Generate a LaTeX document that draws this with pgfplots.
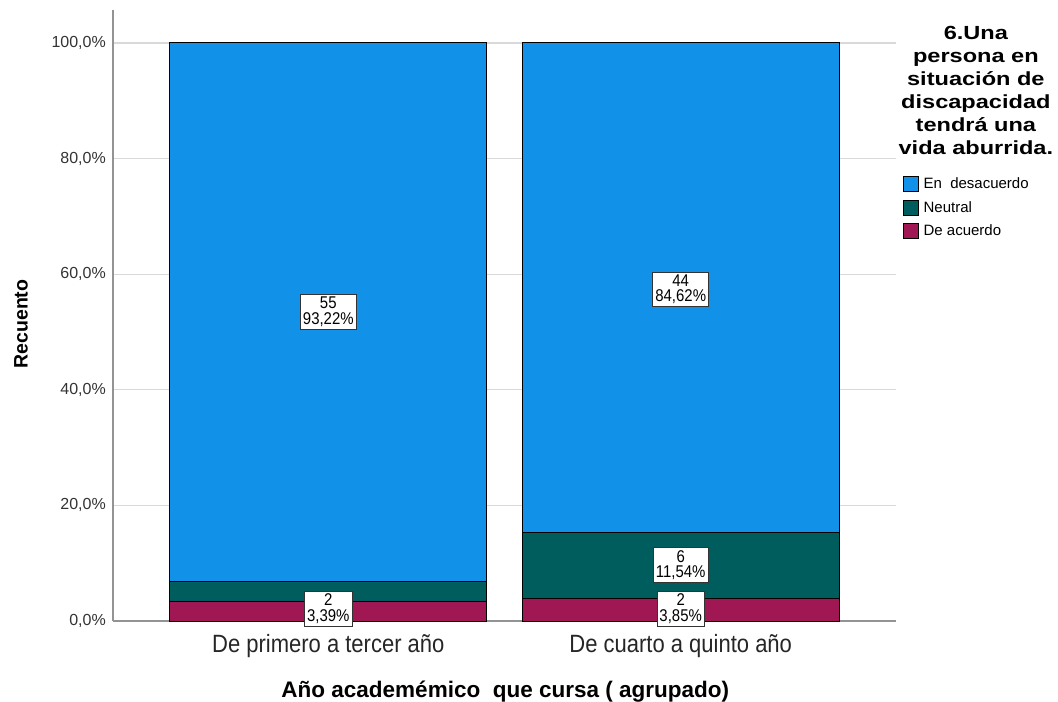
\documentclass[border=0pt]{standalone}
\usepackage{fontspec}
\setmainfont{Liberation Sans}
\newfontfamily\narrowfont[FakeStretch=0.88]{Liberation Sans}
\newfontfamily\widefont[FakeStretch=1.24]{Liberation Sans}
\usepackage{pgfplots}
\pgfplotsset{compat=1.18}
\definecolor{cblue}{HTML}{1192E8}
\definecolor{cteal}{HTML}{005D5D}
\definecolor{cmag}{HTML}{9F1853}
\begin{document}
\begin{tikzpicture}[x=1bp,y=1bp]
\pgfplotsset{commonaxis/.style={
  at={(0,0)}, anchor=south west,
  scale only axis, width=783bp, height=611bp,
  xmin=-0.611, xmax=1.611, ymin=0, ymax=105.7,
}}
\begin{axis}[commonaxis,
  ybar stacked, bar width=0.899,
  clip=false,
  axis x line*=bottom, axis y line*=left,
  axis line style={draw=gray!85, line width=1.2bp},
  xtick={0,1}, xticklabels={De primero a tercer año, De cuarto a quinto año},
  ytick={0,20,40,60,80,100},
  yticklabels={{0,0\%},{20,0\%},{40,0\%},{60,0\%},{80,0\%},{100,0\%}},
  major tick length=0pt,
  ymajorgrids, grid style={draw=gray!30, line width=1.2bp},
  yticklabel style={font=\fontsize{16bp}{19bp}\selectfont, color=black!80, inner sep=0pt, xshift=-7bp},
  xticklabel style={font=\narrowfont\fontsize{25bp}{28bp}\selectfont, color=black!85, inner sep=0pt, yshift=-13bp},
  xlabel={Año academémico\ \ que cursa ( agrupado)},
  ylabel={Recuento},
  xlabel style={font=\bfseries\fontsize{22.5bp}{26bp}\selectfont, at={(rel axis cs:0.501,0)}, anchor=base, yshift=-76bp},
  ylabel style={font=\bfseries\fontsize{19.5bp}{22bp}\selectfont, at={(axis description cs:-0.1175,0.486)}, anchor=center},
  legend style={at={(rel axis cs:1,0.735)}, anchor=north west, xshift=7bp, yshift=-4bp, draw=none, fill=none,
    font=\fontsize{15bp}{18bp}\selectfont, row sep=7bp, inner sep=0pt,
    cells={anchor=west}},
  legend image code/.code={\draw[#1, draw=black, line width=0.8bp] (0bp,-7.5bp) rectangle (15bp,7.5bp);
    \path[draw=none, fill=none] (0bp,0bp) -- (18bp,0bp);},
  reverse legend,
]
\addplot[fill=cmag, draw=black, line width=0.9bp] coordinates {(0,3.39) (1,3.85)};
\addplot[fill=cteal, draw=black, line width=0.9bp] coordinates {(0,3.39) (1,11.54)};
\addplot[fill=cblue, draw=black, line width=0.9bp] coordinates {(0,93.22) (1,84.62)};
\legend{De acuerdo, Neutral, En\ \ desacuerdo}
\node[align=center, font=\widefont\bfseries\fontsize{19bp}{23bp}\selectfont, anchor=north, inner sep=0pt]
  at (rel axis cs:1.102,0.974) {6.Una\\persona en\\situación de\\discapacidad\\tendrá una\\vida aburrida.};
\end{axis}
\begin{axis}[commonaxis, hide axis, clip=false]
\addplot[draw=none, mark=none, nodes near coords, point meta=explicit symbolic,
  every node near coord/.append style={anchor=center, draw=black!80, fill=white, line width=0.8bp,
    align=center, inner sep=2.5bp, font=\narrowfont\fontsize{17bp}{15.5bp}\selectfont}]
  coordinates {
  (0,53.5) [{55\\93,22\%}]
  (1,57.4) [{44\\84,62\%}]
  (1,9.7) [{6\\11,54\%}]
  (0,2.1) [{2\\3,39\%}]
  (1,2.1) [{2\\3,85\%}]
  };
\end{axis}
\pgfresetboundingbox
\path[use as bounding box] (-113bp,-81bp) rectangle (945bp,621bp);
\end{tikzpicture}
\end{document}
